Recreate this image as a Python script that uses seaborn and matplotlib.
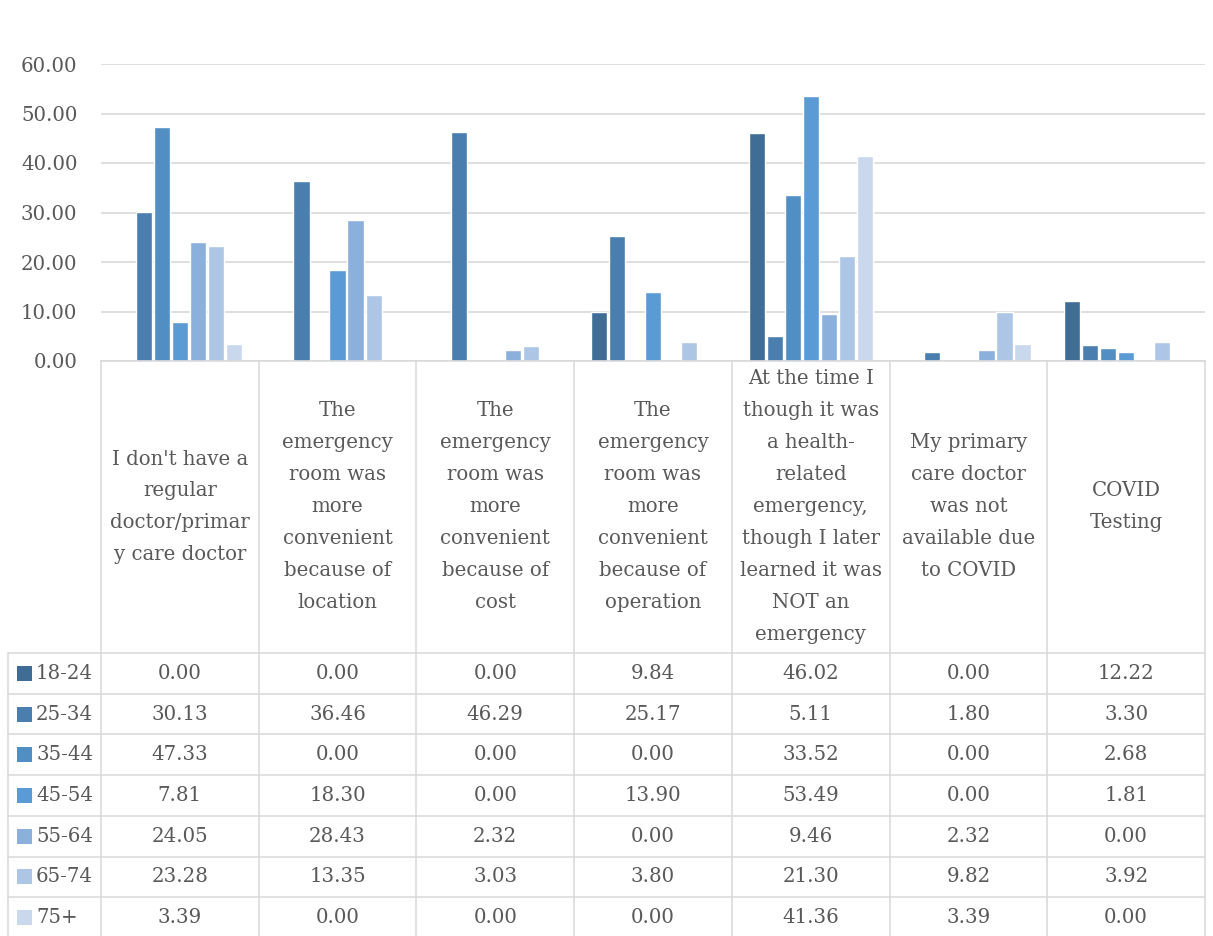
import numpy as np
import pandas as pd
import matplotlib
matplotlib.use("Agg")
import matplotlib.pyplot as plt
import seaborn as sns
from matplotlib.transforms import blended_transform_factory
from matplotlib.patches import Rectangle
from matplotlib.lines import Line2D

# ---------------- data ----------------
reason_lines = [
    ["I don't have a", "regular", "doctor/primar", "y care doctor"],
    ["The", "emergency", "room was", "more", "convenient", "because of", "location"],
    ["The", "emergency", "room was", "more", "convenient", "because of", "cost"],
    ["The", "emergency", "room was", "more", "convenient", "because of", "operation"],
    ["At the time I", "though it was", "a health-", "related", "emergency,",
     "though I later", "learned it was", "NOT an", "emergency"],
    ["My primary", "care doctor", "was not", "available due", "to COVID"],
    ["COVID", "Testing"],
]
reasons = [" ".join(l) for l in reason_lines]
ages = ["18-24", "25-34", "35-44", "45-54", "55-64", "65-74", "75+"]

v_18_24 = [0.00, 0.00, 0.00, 9.84, 46.02, 0.00, 12.22]
v_25_34 = [30.13, 36.46, 46.29, 25.17, 5.11, 1.80, 3.30]
v_35_44 = [47.33, 0.00, 0.00, 0.00, 33.52, 0.00, 2.68]
v_45_54 = [7.81, 18.30, 0.00, 13.90, 53.49, 0.00, 1.81]
v_55_64 = [24.05, 28.43, 2.32, 0.00, 9.46, 2.32, 0.00]
v_65_74 = [23.28, 13.35, 3.03, 3.80, 21.30, 9.82, 3.92]
v_75p = [3.39, 0.00, 0.00, 0.00, 41.36, 3.39, 0.00]
series = [v_18_24, v_25_34, v_35_44, v_45_54, v_55_64, v_65_74, v_75p]

yticks = [0, 10, 20, 30, 40, 50, 60]

colors = ["#3F6D96", "#4A7EAE", "#518EC3", "#5B9BD5", "#8CB0DC", "#ADC6E5", "#C9D8EC"]

df = pd.DataFrame({
    "reason": np.repeat([reasons], len(ages), axis=0).ravel(),
    "age": np.repeat(ages, len(reasons)),
    "value": np.concatenate(series),
})

# ---------------- style ----------------
sns.set_theme(style="white")
plt.rcParams["font.family"] = ["DejaVu Serif"]
TXT = "#595959"
GRID = "#D9D9D9"
FS = 14.2

W, H = 1213, 936
fig = plt.figure(figsize=(W / 100, H / 100), dpi=100)
L, R, T, B = 101, 1205, 64, 361
ax = fig.add_axes([L / W, 1 - B / H, (R - L) / W, (B - T) / H])

sns.barplot(data=df, x="reason", y="value", hue="age", order=reasons,
            hue_order=ages, palette=colors, saturation=1, width=0.8, gap=0.1,
            edgecolor="white", linewidth=1, errorbar=None, legend=False, ax=ax)

ax.set_xlim(-0.5, len(reasons) - 0.5)
ax.set_ylim(0, 60)
ax.set_yticks(yticks)
ax.set_yticklabels([f"{t:.2f}" for t in yticks])
ax.set_xticks([])
ax.set_xlabel("")
ax.set_ylabel("")
ax.tick_params(axis="y", length=0, pad=17, labelcolor=TXT, labelsize=FS)
for s in ["top", "left", "right"]:
    ax.spines[s].set_visible(False)
ax.spines["bottom"].set_color(GRID)
ax.spines["bottom"].set_linewidth(1.2)
ax.yaxis.grid(True, color=GRID, linewidth=1.2)
ax.set_axisbelow(True)

# ---------------- data table ----------------
tr = blended_transform_factory(ax.transData, fig.transFigure)

def fy(px):
    return 1 - px / H

header_top, header_bot = B, 653
row_h = 40.7
line_gap = 32.0
lw = 1.1

# header text
hc = (header_top + header_bot) / 2
for i, lines in enumerate(reason_lines):
    n = len(lines)
    for j, ln in enumerate(lines):
        y = hc - (n - 1) / 2 * line_gap + j * line_gap
        fig.text(i, fy(y), ln, transform=tr, ha="center", va="center",
                 fontsize=FS, color=TXT)

# values
for r, (age, vals) in enumerate(zip(ages, series)):
    yc = header_bot + (r + 0.5) * row_h
    for i, v in enumerate(vals):
        fig.text(i, fy(yc), f"{v:.2f}", transform=tr, ha="center",
                 va="center", fontsize=FS, color=TXT)
    fig.patches.append(Rectangle((17 / W, fy(yc + 7.5)), 15 / W, 15 / H,
                                 transform=fig.transFigure,
                                 facecolor=colors[r], edgecolor="none"))
    fig.text(36 / W, fy(yc), age, ha="left", va="center", fontsize=FS,
             color=TXT)

# grid lines of the table
for k in range(len(reasons) + 1):
    x = k - 0.5
    fig.add_artist(Line2D([x, x], [fy(header_top), 0], transform=tr,
                          color=GRID, linewidth=lw))
fig.add_artist(Line2D([8 / W, 8 / W], [fy(header_bot), 0],
                      transform=fig.transFigure, color=GRID, linewidth=lw))
for r in range(len(ages)):
    y = header_bot + r * row_h
    fig.add_artist(Line2D([8 / W, R / W], [fy(y), fy(y)],
                          transform=fig.transFigure, color=GRID,
                          linewidth=lw))

fig.savefig("out.png", dpi=100, facecolor="white")
